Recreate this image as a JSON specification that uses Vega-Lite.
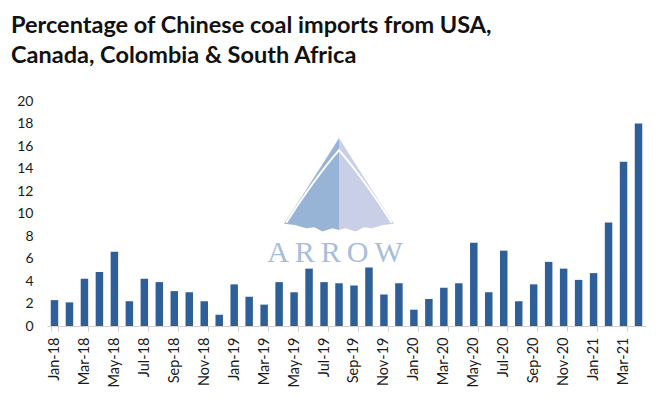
{
  "$schema": "https://vega.github.io/schema/vega-lite/v6.json",
  "width": 599,
  "height": 225,
  "autosize": {"type": "none"},
  "padding": {"left": 47, "top": 101, "right": 24, "bottom": 71},
  "background": "white",
  "title": {
    "text": ["Percentage of Chinese coal imports from USA,", "Canada, Colombia & South Africa"],
    "anchor": "start",
    "frame": "group",
    "dx": -36,
    "offset": 27,
    "font": "Lato",
    "fontSize": 23.5,
    "fontWeight": "bold",
    "color": "#111111",
    "lineHeight": 30
  },
  "data": {
    "values": [
      {"month": "Jan-18", "pct": 2.3}, {"month": "Feb-18", "pct": 2.1}, {"month": "Mar-18", "pct": 4.2}, {"month": "Apr-18", "pct": 4.8},
      {"month": "May-18", "pct": 6.6}, {"month": "Jun-18", "pct": 2.2}, {"month": "Jul-18", "pct": 4.2}, {"month": "Aug-18", "pct": 3.9},
      {"month": "Sep-18", "pct": 3.1}, {"month": "Oct-18", "pct": 3.0}, {"month": "Nov-18", "pct": 2.2}, {"month": "Dec-18", "pct": 1.0},
      {"month": "Jan-19", "pct": 3.7}, {"month": "Feb-19", "pct": 2.6}, {"month": "Mar-19", "pct": 1.9}, {"month": "Apr-19", "pct": 3.9},
      {"month": "May-19", "pct": 3.0}, {"month": "Jun-19", "pct": 5.1}, {"month": "Jul-19", "pct": 3.9}, {"month": "Aug-19", "pct": 3.8},
      {"month": "Sep-19", "pct": 3.6}, {"month": "Oct-19", "pct": 5.2}, {"month": "Nov-19", "pct": 2.8}, {"month": "Dec-19", "pct": 3.8},
      {"month": "Jan-20", "pct": 1.45}, {"month": "Feb-20", "pct": 2.4}, {"month": "Mar-20", "pct": 3.4}, {"month": "Apr-20", "pct": 3.8},
      {"month": "May-20", "pct": 7.4}, {"month": "Jun-20", "pct": 3.0}, {"month": "Jul-20", "pct": 6.7}, {"month": "Aug-20", "pct": 2.2},
      {"month": "Sep-20", "pct": 3.7}, {"month": "Oct-20", "pct": 5.7}, {"month": "Nov-20", "pct": 5.1}, {"month": "Dec-20", "pct": 4.1},
      {"month": "Jan-21", "pct": 4.7}, {"month": "Feb-21", "pct": 9.2}, {"month": "Mar-21", "pct": 14.6}, {"month": "Apr-21", "pct": 18.0}
    ]
  },
  "resolve": {"scale": {"x": "independent", "y": "independent"}, "axis": {"x": "independent", "y": "independent"}},
  "layer": [
    {
      "data": {"values": [{"logo": "A\u2009R\u2009R\u2009O\u2009W"}]},
      "layer": [
        {
          "mark": {"type": "point", "filled": true, "opacity": 1, "color": "#97b4d6",
            "shape": "M0,-0.84 Q-0.4,-0.2 -1,0.72 L-0.8,0.74 L-0.6,0.8 L-0.45,0.78 L-0.3,0.86 L-0.12,0.8 L0,0.83 Z",
            "size": 12100},
          "encoding": {"x": {"datum": 19.5, "type": "quantitative", "axis": null, "scale": {"domain": [0, 40]}}, "y": {"datum": 12.6, "type": "quantitative", "axis": null, "scale": {"domain": [0, 20]}}}
        },
        {
          "mark": {"type": "point", "filled": true, "opacity": 1, "color": "#c8cfe6",
            "shape": "M0,-0.84 Q0.4,-0.2 1,0.72 L0.8,0.74 L0.6,0.8 L0.45,0.78 L0.3,0.86 L0.12,0.8 L0,0.83 Z",
            "size": 12100},
          "encoding": {"x": {"datum": 19.5, "type": "quantitative", "axis": null, "scale": {"domain": [0, 40]}}, "y": {"datum": 12.6, "type": "quantitative", "axis": null, "scale": {"domain": [0, 20]}}}
        },
        {
          "mark": {"type": "point", "filled": false, "opacity": 1, "color": "white", "strokeWidth": 2,
            "shape": "M-0.96,0.7 Q-0.45,-0.1 0,-0.62 Q0.45,-0.1 0.96,0.7",
            "size": 12100},
          "encoding": {"x": {"datum": 19.5, "type": "quantitative", "axis": null, "scale": {"domain": [0, 40]}}, "y": {"datum": 12.6, "type": "quantitative", "axis": null, "scale": {"domain": [0, 20]}}}
        },
        {
          "mark": {"type": "text", "font": "Liberation Serif", "fontSize": 30, "color": "#a8bddb", "baseline": "alphabetic", "align": "center", "dx": -4},
          "encoding": {"text": {"field": "logo"}, "x": {"datum": 19.5, "type": "quantitative", "axis": null, "scale": {"domain": [0, 40]}}, "y": {"datum": 5.7, "type": "quantitative", "axis": null, "scale": {"domain": [0, 20]}}}
        }
      ]
    },
    {
      "mark": {"type": "bar", "color": "#2f5f99"},
      "encoding": {
        "x": {
          "field": "month",
          "type": "ordinal",
          "sort": null,
          "scale": {"paddingInner": 0.5, "paddingOuter": 0.25},
          "axis": {
            "title": null,
            "values": ["Jan-18","Mar-18","May-18","Jul-18","Sep-18","Nov-18","Jan-19","Mar-19","May-19","Jul-19","Sep-19","Nov-19","Jan-20","Mar-20","May-20","Jul-20","Sep-20","Nov-20","Jan-21","Mar-21"]
          }
        },
        "y": {
          "field": "pct",
          "type": "quantitative",
          "scale": {"domain": [0, 20], "nice": false},
          "axis": {
            "title": null,
            "values": [0, 2, 4, 6, 8, 10, 12, 14, 16, 18, 20]
          }
        }
      }
    }
  ],
  "config": {
    "view": {"stroke": null},
    "axisX": {
      "title": null,
      "labelAngle": -90,
      "labelFont": "Lato",
      "labelFontSize": 14.5,
      "labelColor": "#1a1a1a",
      "labelPadding": 6,
      "labelOverlap": false,
      "tickBand": "extent",
      "tickColor": "#d0d0d0",
      "tickSize": 5,
      "domainColor": "#d0d0d0",
      "domainWidth": 1.2
    },
    "axisY": {
      "title": null,
      "grid": false,
      "domain": false,
      "ticks": false,
      "labelOverlap": false,
      "labelPadding": 14,
      "labelFont": "Lato",
      "labelFontSize": 14,
      "labelColor": "#1a1a1a"
    }
  }
}
